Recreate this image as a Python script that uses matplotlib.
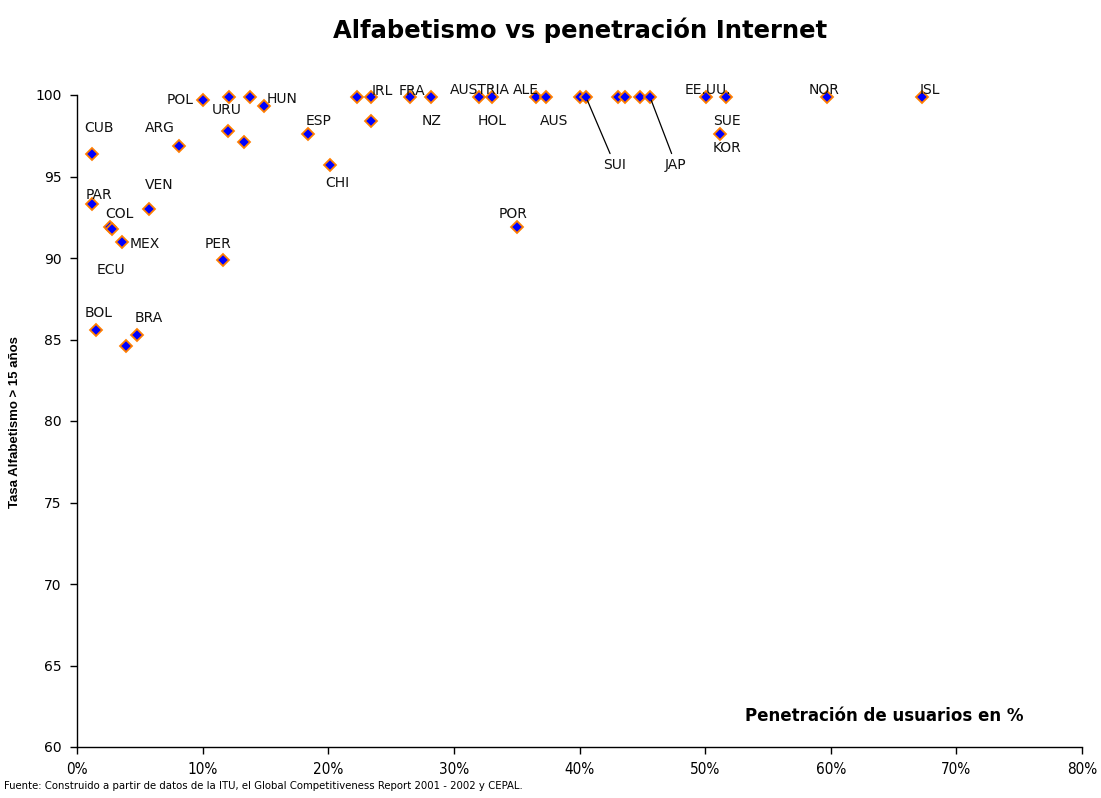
import matplotlib
matplotlib.use("Agg")
import matplotlib.pyplot as plt
from matplotlib.ticker import FuncFormatter
from matplotlib import font_manager as fm

# ---- data (penetration %, literacy rate) ----
labels = ["CUB", "ARG", "POL", "", "", "HUN", "URU", "", "ESP", "CHI",
          "", "IRL", "", "FRA", "NZ", "AUSTRIA", "HOL", "ALE", "AUS", "",
          "SUI", "", "", "", "JAP", "EE.UU.", "SUE", "KOR", "NOR", "ISL",
          "POR", "PAR", "VEN", "COL", "ECU", "MEX", "PER", "BOL", "BRA", ""]
internet = [1.2, 8.1, 10.0, 12.1, 13.8, 14.9, 12.0, 13.3, 18.4, 20.1,
            22.3, 23.4, 23.4, 26.5, 28.2, 32.0, 33.0, 36.5, 37.3, 40.0,
            40.5, 43.1, 43.6, 44.8, 45.6, 50.1, 51.7, 51.2, 59.7, 67.3,
            35.0, 1.2, 5.7, 2.6, 2.8, 3.6, 11.6, 1.5, 4.8, 3.9]
literacy = [96.4, 96.9, 99.7, 99.9, 99.9, 99.3, 97.8, 97.1, 97.6, 95.7,
            99.9, 99.9, 98.4, 99.9, 99.9, 99.9, 99.9, 99.9, 99.9, 99.9,
            99.9, 99.9, 99.9, 99.9, 99.9, 99.9, 99.9, 97.6, 99.9, 99.9,
            91.9, 93.3, 93.0, 91.9, 91.8, 91.0, 89.9, 85.6, 85.3, 84.6]
x_ticks = [0, 10, 20, 30, 40, 50, 60, 70, 80]
y_ticks = [60, 65, 70, 75, 80, 85, 90, 95, 100]

# label offsets in pixels (dx right, dy down) -- layout only
label_offsets = {
    "CUB": (7, -26), "ARG": (-19, -18), "POL": (-23, 0), "HUN": (18, -7),
    "URU": (-1, -21), "ESP": (10, -13), "CHI": (8, 18), "IRL": (11, -6),
    "FRA": (2, -6), "NZ": (0, 24), "AUSTRIA": (1, -7), "HOL": (1, 24),
    "ALE": (-10, -7), "AUS": (8, 24), "SUI": (29, 68), "JAP": (26, 68),
    "EE.UU.": (1, -7), "SUE": (0, 24), "KOR": (7, 14), "NOR": (-3, -7),
    "ISL": (7, -7), "POR": (-4, -13), "PAR": (7, -9), "VEN": (11, -24),
    "COL": (10, -13), "ECU": (-1, 41), "MEX": (23, 2), "PER": (-5, -16),
    "BOL": (3, -17), "BRA": (11, -17),
}
leader = {"SUI", "JAP"}


def find_narrow():
    for f in fm.fontManager.ttflist:
        nm = f.name.lower()
        st = str(f.stretch).lower()
        if ("narrow" in nm or "condensed" in nm or "condensed" in st
                or st in ("semi-condensed", "condensed")) and f.weight in (400, "normal", "regular"):
            if f.style == "normal":
                return f.fname
    return None


nf = find_narrow()
if nf:
    narrow_fp = dict(fontproperties=fm.FontProperties(fname=nf))
    narrow_ok = True
else:
    narrow_fp = dict(family=["Liberation Sans", "DejaVu Sans"])
    narrow_ok = False

fig = plt.figure(figsize=(11.01, 7.98), dpi=100)
ax = fig.add_axes([77 / 1101, 51 / 798, 1005 / 1101, 652 / 798])

ax.plot(internet, literacy, linestyle="none", marker="D", markersize=6,
        markerfacecolor="#0000FF", markeredgecolor="#FF7F00",
        markeredgewidth=1.3, zorder=3, clip_on=False)

for name, xv, yv in zip(labels, internet, literacy):
    if not name:
        continue
    dx, dy = label_offsets[name]
    kw = {}
    if name in leader:
        kw["arrowprops"] = dict(arrowstyle="-", color="black", lw=0.9,
                                shrinkA=1, shrinkB=3)
    ax.annotate(name, (xv, yv), xytext=(dx, -dy), textcoords="offset pixels",
                ha="center", va="center", fontsize=10, family="DejaVu Sans",
                color="#111111", zorder=4, **kw)

ax.set_xlim(0, 80)
ax.set_ylim(60, 100)
ax.set_xticks(x_ticks)
ax.set_yticks(y_ticks)
ax.xaxis.set_major_formatter(FuncFormatter(lambda v, p: f"{v:.0f}%"))
for s in ["top", "right"]:
    ax.spines[s].set_visible(False)
for s in ["left", "bottom"]:
    ax.spines[s].set_linewidth(1.0)
ax.tick_params(axis="both", direction="out", length=5, width=1)
ax.tick_params(axis="y", labelsize=10, pad=6)
ax.tick_params(axis="x", pad=6)
for t in ax.get_xticklabels():
    if narrow_ok:
        t.set_fontproperties(fm.FontProperties(fname=nf, size=11))
    else:
        t.set_family(["Liberation Sans", "DejaVu Sans"])
        t.set_fontsize(10)
for t in ax.get_yticklabels():
    t.set_family("DejaVu Sans")

fig.text(0.527, 1 - 30 / 798, "Alfabetismo vs penetración Internet",
         ha="center", va="center", fontsize=17.5, fontweight="bold",
         family="DejaVu Sans")
ax.text(884 / 1101, 1 - 716 / 798, "Penetración de usuarios en %",
        transform=fig.transFigure, ha="center", va="center",
        fontsize=12, fontweight="bold", family="DejaVu Sans")
fig.text(15 / 1101, 1 - 422 / 798, "Tasa Alfabetismo > 15 años",
         rotation=90, ha="center", va="center", fontsize=9.5,
         fontweight="bold", family=["Liberation Sans", "DejaVu Sans"])
foot = fig.text(4 / 1101, 1 - 786 / 798,
                "Fuente: Construido a partir de datos de la ITU, el Global Competitiveness Report 2001 - 2002 y CEPAL.",
                ha="left", va="center", **narrow_fp)
foot.set_fontsize(8.1)

fig.savefig("out.png", dpi=100)
